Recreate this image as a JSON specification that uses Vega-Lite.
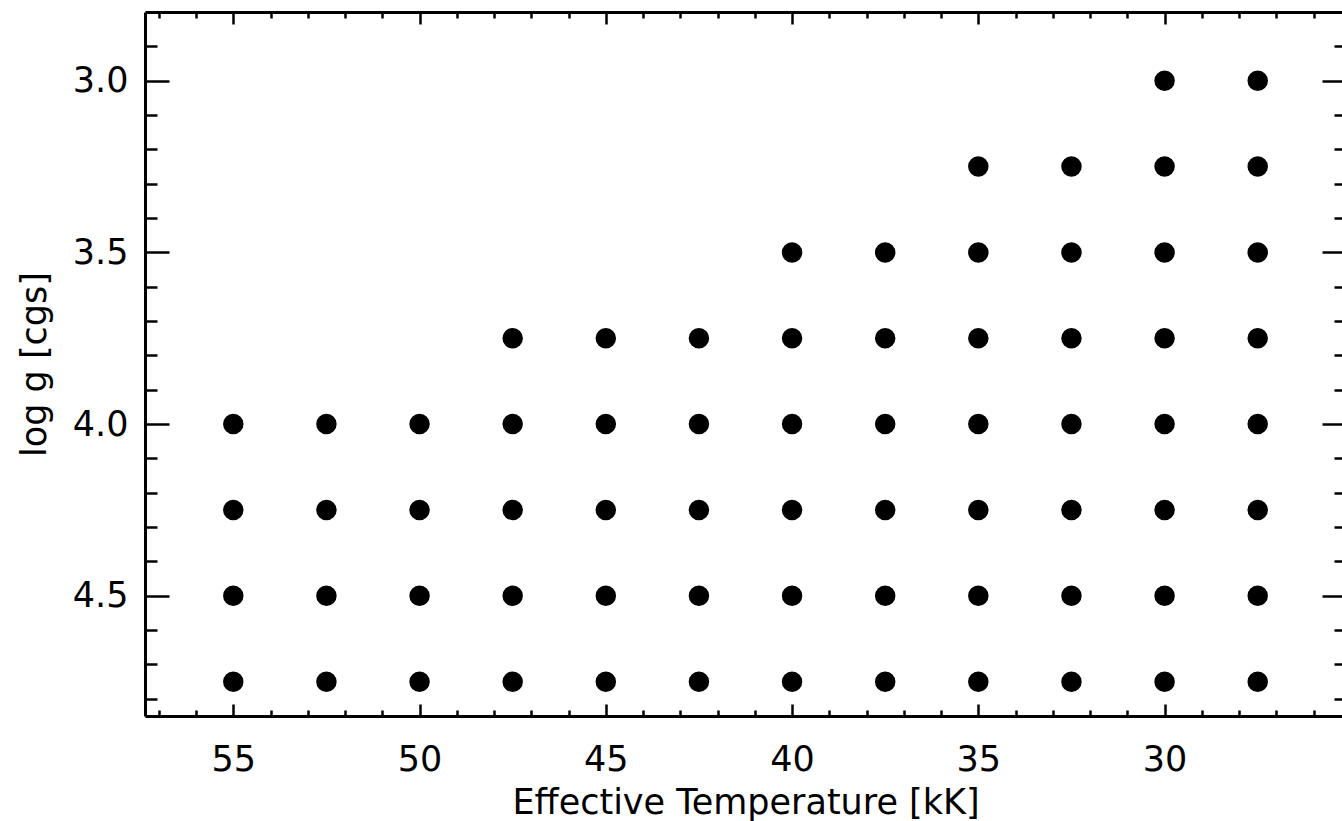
{
  "$schema": "https://vega.github.io/schema/vega-lite/v6.json",
  "width": 1201,
  "height": 704,
  "autosize": {"type": "none"},
  "padding": {"left": 145, "top": 12, "right": 0, "bottom": 105},
  "background": "white",
  "config": {
    "view": {"stroke": null},
    "axis": {
      "grid": false,
      "domainColor": "black",
      "domainWidth": 3,
      "tickColor": "black",
      "tickWidth": 2.5,
      "labelColor": "black",
      "labelFont": "DejaVu Sans",
      "labelFontSize": 35,
      "titleColor": "black",
      "titleFont": "DejaVu Sans",
      "titleFontSize": 35,
      "titleFontWeight": "normal",
      "labelFlush": false,
      "labelOverlap": false
    }
  },
  "data": {
    "values": [
      {"teff": 55, "logg": 4.75}, {"teff": 52.5, "logg": 4.75}, {"teff": 50, "logg": 4.75}, {"teff": 47.5, "logg": 4.75}, {"teff": 45, "logg": 4.75}, {"teff": 42.5, "logg": 4.75}, {"teff": 40, "logg": 4.75}, {"teff": 37.5, "logg": 4.75}, {"teff": 35, "logg": 4.75}, {"teff": 32.5, "logg": 4.75}, {"teff": 30, "logg": 4.75}, {"teff": 27.5, "logg": 4.75},
      {"teff": 55, "logg": 4.5}, {"teff": 52.5, "logg": 4.5}, {"teff": 50, "logg": 4.5}, {"teff": 47.5, "logg": 4.5}, {"teff": 45, "logg": 4.5}, {"teff": 42.5, "logg": 4.5}, {"teff": 40, "logg": 4.5}, {"teff": 37.5, "logg": 4.5}, {"teff": 35, "logg": 4.5}, {"teff": 32.5, "logg": 4.5}, {"teff": 30, "logg": 4.5}, {"teff": 27.5, "logg": 4.5},
      {"teff": 55, "logg": 4.25}, {"teff": 52.5, "logg": 4.25}, {"teff": 50, "logg": 4.25}, {"teff": 47.5, "logg": 4.25}, {"teff": 45, "logg": 4.25}, {"teff": 42.5, "logg": 4.25}, {"teff": 40, "logg": 4.25}, {"teff": 37.5, "logg": 4.25}, {"teff": 35, "logg": 4.25}, {"teff": 32.5, "logg": 4.25}, {"teff": 30, "logg": 4.25}, {"teff": 27.5, "logg": 4.25},
      {"teff": 55, "logg": 4.0}, {"teff": 52.5, "logg": 4.0}, {"teff": 50, "logg": 4.0}, {"teff": 47.5, "logg": 4.0}, {"teff": 45, "logg": 4.0}, {"teff": 42.5, "logg": 4.0}, {"teff": 40, "logg": 4.0}, {"teff": 37.5, "logg": 4.0}, {"teff": 35, "logg": 4.0}, {"teff": 32.5, "logg": 4.0}, {"teff": 30, "logg": 4.0}, {"teff": 27.5, "logg": 4.0},
      {"teff": 47.5, "logg": 3.75}, {"teff": 45, "logg": 3.75}, {"teff": 42.5, "logg": 3.75}, {"teff": 40, "logg": 3.75}, {"teff": 37.5, "logg": 3.75}, {"teff": 35, "logg": 3.75}, {"teff": 32.5, "logg": 3.75}, {"teff": 30, "logg": 3.75}, {"teff": 27.5, "logg": 3.75},
      {"teff": 40, "logg": 3.5}, {"teff": 37.5, "logg": 3.5}, {"teff": 35, "logg": 3.5}, {"teff": 32.5, "logg": 3.5}, {"teff": 30, "logg": 3.5}, {"teff": 27.5, "logg": 3.5},
      {"teff": 35, "logg": 3.25}, {"teff": 32.5, "logg": 3.25}, {"teff": 30, "logg": 3.25}, {"teff": 27.5, "logg": 3.25},
      {"teff": 30, "logg": 3.0}, {"teff": 27.5, "logg": 3.0}
    ]
  },
  "layer": [
    {
      "mark": {"type": "point", "filled": true, "size": 420, "color": "black", "opacity": 1},
      "encoding": {
        "x": {
          "field": "teff", "type": "quantitative",
          "scale": {"domain": [25.13, 57.37], "reverse": true, "nice": false, "zero": false},
          "axis": {
            "orient": "bottom",
            "values": [55, 50, 45, 40, 35, 30],
            "tickSize": -12,
            "labelPadding": 38,
            "title": "Effective Temperature [kK]",
            "titleY": 97,
            "titleBaseline": "alphabetic"
          }
        },
        "y": {
          "field": "logg", "type": "quantitative",
          "scale": {"domain": [2.8, 4.85], "reverse": true, "nice": false, "zero": false},
          "axis": {
            "orient": "left",
            "values": [3.0, 3.5, 4.0, 4.5],
            "format": ".1f",
            "tickSize": -24,
            "labelPadding": 41,
            "title": "log g [cgs]",
            "titleX": -100,
            "titleBaseline": "alphabetic"
          }
        }
      }
    },
    {
      "mark": {"type": "point", "opacity": 0},
      "encoding": {
        "x": {
          "field": "teff", "type": "quantitative",
          "scale": {"domain": [25.13, 57.37], "reverse": true, "nice": false, "zero": false},
          "axis": {
            "orient": "bottom",
            "values": [57, 56, 54, 53, 52, 51, 49, 48, 47, 46, 44, 43, 42, 41, 39, 38, 37, 36, 34, 33, 32, 31, 29, 28, 27, 26],
            "tickSize": -6,
            "labels": false,
            "domain": false,
            "title": null
          }
        },
        "y": {
          "field": "logg", "type": "quantitative",
          "scale": {"domain": [2.8, 4.85], "reverse": true, "nice": false, "zero": false},
          "axis": {
            "orient": "left",
            "values": [2.9, 3.1, 3.2, 3.3, 3.4, 3.6, 3.7, 3.8, 3.9, 4.1, 4.2, 4.3, 4.4, 4.6, 4.7, 4.8],
            "tickSize": -12,
            "labels": false,
            "domain": false,
            "title": null
          }
        }
      }
    },
    {
      "mark": {"type": "point", "opacity": 0},
      "encoding": {
        "x": {
          "field": "teff", "type": "quantitative",
          "scale": {"domain": [25.13, 57.37], "reverse": true, "nice": false, "zero": false},
          "axis": {
            "orient": "top",
            "values": [55, 50, 45, 40, 35, 30],
            "tickSize": -12,
            "labels": false,
            "title": null
          }
        },
        "y": {
          "field": "logg", "type": "quantitative",
          "scale": {"domain": [2.8, 4.85], "reverse": true, "nice": false, "zero": false},
          "axis": {
            "orient": "right",
            "values": [3.0, 3.5, 4.0, 4.5],
            "tickSize": -24,
            "labels": false,
            "title": null
          }
        }
      }
    },
    {
      "mark": {"type": "point", "opacity": 0},
      "encoding": {
        "x": {
          "field": "teff", "type": "quantitative",
          "scale": {"domain": [25.13, 57.37], "reverse": true, "nice": false, "zero": false},
          "axis": {
            "orient": "top",
            "values": [57, 56, 54, 53, 52, 51, 49, 48, 47, 46, 44, 43, 42, 41, 39, 38, 37, 36, 34, 33, 32, 31, 29, 28, 27, 26],
            "tickSize": -6,
            "labels": false,
            "domain": false,
            "title": null
          }
        },
        "y": {
          "field": "logg", "type": "quantitative",
          "scale": {"domain": [2.8, 4.85], "reverse": true, "nice": false, "zero": false},
          "axis": {
            "orient": "right",
            "values": [2.9, 3.1, 3.2, 3.3, 3.4, 3.6, 3.7, 3.8, 3.9, 4.1, 4.2, 4.3, 4.4, 4.6, 4.7, 4.8],
            "tickSize": -12,
            "labels": false,
            "domain": false,
            "title": null
          }
        }
      }
    }
  ],
  "resolve": {"axis": {"x": "independent", "y": "independent"}}
}
